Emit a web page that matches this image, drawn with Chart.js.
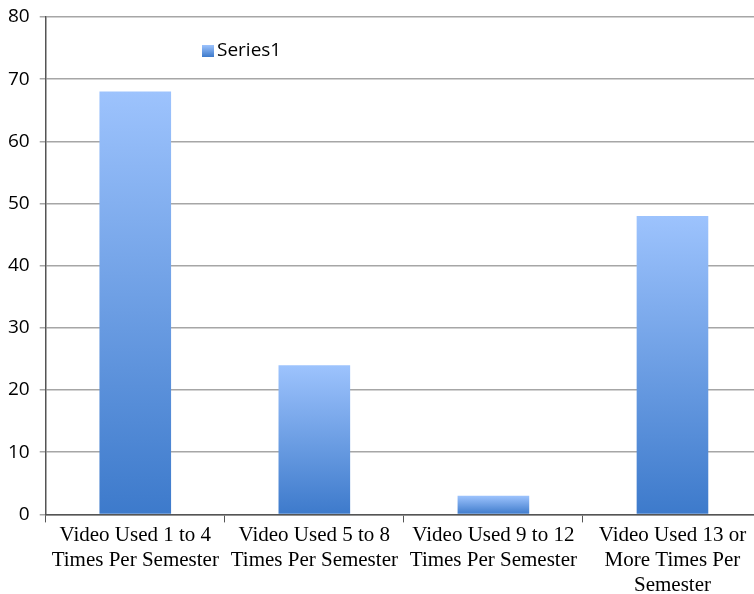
<!DOCTYPE html>
<html>
<head>
<meta charset="utf-8">
<script src="https://cdn.jsdelivr.net/npm/chart.js@4/dist/chart.umd.min.js"></script>
<style>
  html, body { margin: 0; padding: 0; background: #fff; overflow: hidden; }
  #wrap { width: 762px; height: 594px; }
</style>
</head>
<body>
<div id="wrap"><canvas id="myChart"></canvas></div>
<script>
const categories = [
    ['Video Used 1 to 4', 'Times Per Semester'],
    ['Video Used 5 to 8', 'Times Per Semester'],
    ['Video Used 9 to 12', 'Times Per Semester'],
    ['Video Used 13 or', 'More Times Per', 'Semester'],
];
const series1 = [68, 24, 3, 48];
const yTicks = [0, 10, 20, 30, 40, 50, 60, 70, 80];

// light blue at the top of each bar fading to a deeper blue at the base
const barGradient = (context) => {
    const chart = context.chart;
    const area = chart.chartArea;
    if (!area || context.type !== 'data') return '#6b9be0';
    const y = chart.scales.y;
    const top = y.getPixelForValue(context.raw);
    const base = y.getPixelForValue(0);
    const g = chart.ctx.createLinearGradient(0, top, 0, base);
    g.addColorStop(0, '#9dc3fd');
    g.addColorStop(1, '#3d7acb');
    return g;
};

// small legend drawn inside the plot area
const insideLegend = {
    id: 'insideLegend',
    afterDraw(chart) {
        const ctx = chart.ctx;
        const x = 202, y = 51;
        const g = ctx.createLinearGradient(0, y - 6, 0, y + 6);
        g.addColorStop(0, '#9dc3fd');
        g.addColorStop(1, '#3d7acb');
        ctx.save();
        ctx.fillStyle = g;
        ctx.fillRect(x, y - 6, 12, 12);
        ctx.fillStyle = '#000';
        ctx.font = '19px "Open Sans", sans-serif';
        ctx.textBaseline = 'middle';
        ctx.fillText('Series1', x + 15, y);
        ctx.restore();
    },
};

const createChart = () => {
    const ctx = document.getElementById('myChart').getContext('2d');
    new Chart(ctx, {
        type: 'bar',
        data: {
            labels: categories,
            datasets: [
                {
                    label: 'Series1',
                    data: series1,
                    backgroundColor: barGradient,
                    borderWidth: 0,
                    categoryPercentage: 1,
                    barPercentage: 0.4,
                },
            ],
        },
        options: {
            responsive: true,
            maintainAspectRatio: false,
            animation: false,
            layout: { padding: { top: 17, left: -2, right: 0, bottom: -4 } },
            plugins: {
                legend: { display: false },
                tooltip: { enabled: false },
            },
            scales: {
                x: {
                    offset: true,
                    grid: {
                        offset: true,
                        drawOnChartArea: false,
                        color: '#555',
                        tickLength: 8,
                    },
                    border: { color: '#555', width: 1.5 },
                    ticks: {
                        color: '#000',
                        font: { family: '"Liberation Serif", serif', size: 21, lineHeight: 1.2 },
                        maxRotation: 0,
                        autoSkip: false,
                        padding: 0,
                    },
                },
                y: {
                    min: 0,
                    max: 80,
                    afterBuildTicks: (axis) => {
                        axis.ticks = yTicks.map((v) => ({ value: v }));
                    },
                    // let the layout padding alone decide where the top gridline sits
                    afterFit: (axis) => {
                        axis.paddingTop = 0;
                    },
                    grid: {
                        color: '#a6a6a6',
                        lineWidth: 1.5,
                        tickLength: 6,
                    },
                    border: { color: '#555', width: 1.5 },
                    ticks: {
                        color: '#000',
                        font: { family: '"Open Sans", sans-serif', size: 19 },
                        padding: 10,
                    },
                },
            },
        },
        plugins: [insideLegend],
    });
};

window.onload = () => {
    createChart();
};
</script>
</body>
</html>
